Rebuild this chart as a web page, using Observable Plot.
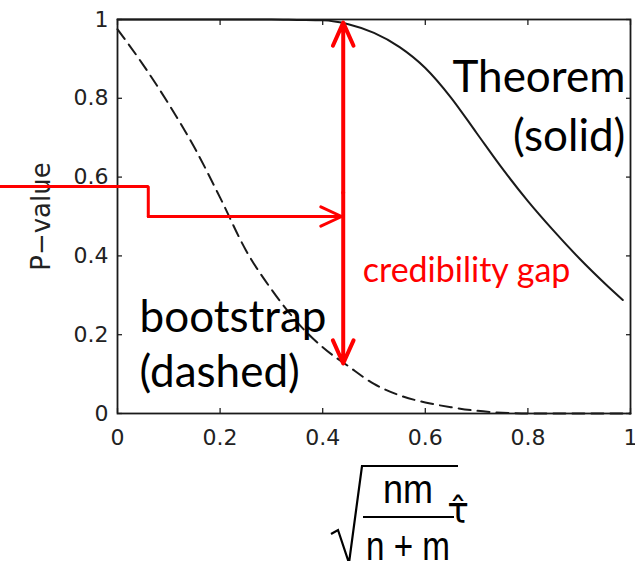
<!DOCTYPE html>
<html>
<head>
<meta charset="utf-8">
<script src="https://cdn.jsdelivr.net/npm/d3@7"></script>
<script src="https://cdn.jsdelivr.net/npm/@observablehq/plot@0.6"></script>
<style>
  html, body { margin: 0; padding: 0; background: #fff; }
  #chart { width: 635px; height: 561px; }
</style>
</head>
<body>
<div id="chart"></div>
<script>
// Bootstrap p-value (dashed) against the scaled statistic
const bootX = [0, 0.05, 0.1, 0.15, 0.2, 0.25, 0.3, 0.35, 0.4, 0.45, 0.5, 0.55, 0.6, 0.65, 0.7, 0.75, 0.8, 0.85, 0.9, 0.95, 1.0];
const bootP = [0.975, 0.885, 0.785, 0.675, 0.548, 0.415, 0.315, 0.232, 0.168, 0.12, 0.075, 0.046, 0.028, 0.016, 0.007, 0.002, 0, 0, 0, 0, 0];

// Theorem-based p-value (solid)
const theoremX = [0, 0.1, 0.2, 0.3, 0.35, 0.4, 0.45, 0.5, 0.55, 0.6, 0.65, 0.7, 0.75, 0.8, 0.85, 0.9, 0.95, 0.985];
const theoremP = [1, 1, 1, 1, 0.999, 0.998, 0.988, 0.966, 0.93, 0.877, 0.802, 0.712, 0.622, 0.539, 0.464, 0.394, 0.33, 0.288];

// Axis ticks
const xTicks = [0, 0.2, 0.4, 0.6, 0.8, 1];
const xTickLabels = ["0", "0.2", "0.4", "0.6", "0.8", "1"];
const yTicks = [0, 0.2, 0.4, 0.6, 0.8, 1];
const yTickLabels = ["0", "0.2", "0.4", "0.6", "0.8", "1"];

// Credibility gap between the two curves
const gapX = 0.44;
const gapTop = 0.992;
const gapBottom = 0.127;
const gapMid = 0.56;

// Pointer leading in from the left edge
const pointerX = [-0.228, 0.06, 0.06, 0.437];
const pointerY = [0.576, 0.576, 0.5, 0.5];

const M = { top: 19, right: 5, bottom: 148, left: 117 };
const W = 635, H = 561;

const boot = bootX.map((x, i) => ({ x, p: bootP[i] }));
const theorem = theoremX.map((x, i) => ({ x, p: theoremP[i] }));
const pointer = pointerX.map((x, i) => ({ x, y: pointerY[i] }));

const tickFont = "'DejaVu Sans', sans-serif";
const noteFont = "Lato, 'Open Sans', sans-serif";
const red = "#ff0000";

const plot = Plot.plot({
  width: W,
  height: H,
  marginTop: M.top,
  marginRight: M.right,
  marginBottom: M.bottom,
  marginLeft: M.left,
  style: { color: "#222", background: "#fff", overflow: "visible" },
  x: { domain: [0, 1] },
  y: { domain: [0, 1] },
  marks: [
    // MATLAB-style box with inward ticks on all sides
    Plot.axisY(yTicks, { anchor: "left", tickSize: -5, tickPadding: 14, strokeWidth: 1.3,
      tickFormat: (d, i) => yTickLabels[i], fontSize: 22, fontFamily: tickFont, label: null }),
    Plot.axisY(yTicks, { anchor: "right", tickSize: -5, strokeWidth: 1.3, tickFormat: () => "", label: null }),
    Plot.axisX(xTicks, { anchor: "bottom", tickSize: -5, tickPadding: 21, strokeWidth: 1.3,
      tickFormat: (d, i) => xTickLabels[i], fontSize: 22, fontFamily: tickFont, label: null }),
    Plot.axisX(xTicks, { anchor: "top", tickSize: -5, strokeWidth: 1.3, tickFormat: () => "", label: null }),

    // curves
    Plot.line(theorem, { x: "x", y: "p", stroke: "#1a1a1a", strokeWidth: 2, curve: "monotone-x" }),
    Plot.line(boot, { x: "x", y: "p", stroke: "#1a1a1a", strokeWidth: 2, strokeDasharray: "12,7", curve: "monotone-x" }),

    Plot.frame({ stroke: "#1a1a1a", strokeWidth: 1.8 }),

    // y-axis title
    Plot.text(["P\u2212value"], { frameAnchor: "left", dx: -76, rotate: -90, textAnchor: "middle",
      fontSize: 26, fontFamily: tickFont, fill: "#222" }),

    // red pointer into the gap
    Plot.line(pointer.slice(0, 3), { x: "x", y: "y", stroke: red, strokeWidth: 3, strokeLinejoin: "miter" }),
    Plot.arrow([pointer.slice(2)], { x1: d => d[0].x, y1: d => d[0].y, x2: d => d[1].x, y2: d => d[1].y,
      stroke: red, strokeWidth: 3, headLength: 11.5, headAngle: 50, strokeLinecap: "round" }),

    // double-headed gap arrow
    Plot.arrow([gapTop, gapBottom], { x1: gapX, y1: gapMid, x2: gapX, y2: d => d,
      stroke: red, strokeWidth: 4, headLength: 9.5, headAngle: 48, strokeLinecap: "round", strokeLinejoin: "round" }),

    // annotations
    Plot.text(["Theorem"], { x: 0.99, y: 0.815, textAnchor: "end", lineAnchor: "bottom", fontSize: 44, fontFamily: noteFont, fill: "#000" }),
    Plot.text(["(solid)"], { x: 0.99, y: 0.6675, textAnchor: "end", lineAnchor: "bottom", fontSize: 44, fontFamily: noteFont, fill: "#000" }),
    Plot.text(["bootstrap"], { x: 0.043, y: 0.2056, textAnchor: "start", lineAnchor: "bottom", fontSize: 44, fontFamily: noteFont, fill: "#000" }),
    Plot.text(["(dashed)"], { x: 0.043, y: 0.0685, textAnchor: "start", lineAnchor: "bottom", fontSize: 44, fontFamily: noteFont, fill: "#000" }),
    Plot.text(["credibility gap"], { x: 0.478, y: 0.335, textAnchor: "start", lineAnchor: "bottom", fontSize: 34, fontFamily: noteFont, fill: red })
  ]
});

document.getElementById("chart").appendChild(plot);

// x-axis title: sqrt(nm / (n+m)) tau-hat
const ox = M.left, oy = H - M.bottom;
const f = d3.select(plot).append("g")
  .attr("font-family", "'Liberation Sans', Arial, sans-serif")
  .attr("fill", "#000");
f.append("path")
  .attr("d", `M${ox + 214},${oy + 121} L${ox + 221},${oy + 117} L${ox + 232},${oy + 150} L${ox + 245},${oy + 53} H${ox + 341}`)
  .attr("fill", "none").attr("stroke", "#000").attr("stroke-width", 2.2).attr("stroke-linejoin", "miter");
f.append("text").attr("x", ox + 291).attr("y", oy + 90).attr("text-anchor", "middle")
  .attr("font-size", 40).attr("textLength", 50).attr("lengthAdjust", "spacingAndGlyphs").text("nm");
f.append("line").attr("x1", ox + 246).attr("x2", ox + 337).attr("y1", oy + 104).attr("y2", oy + 104)
  .attr("stroke", "#000").attr("stroke-width", 2);
f.append("text").attr("x", ox + 291).attr("y", oy + 147).attr("text-anchor", "middle")
  .attr("font-size", 40).attr("textLength", 84).attr("lengthAdjust", "spacingAndGlyphs").text("n + m");
f.append("text").attr("x", ox + 341).attr("y", oy + 110)
  .attr("font-family", "'DejaVu Sans', sans-serif")
  .attr("font-size", 36).text("\u03C4\u0302");
</script>
</body>
</html>
